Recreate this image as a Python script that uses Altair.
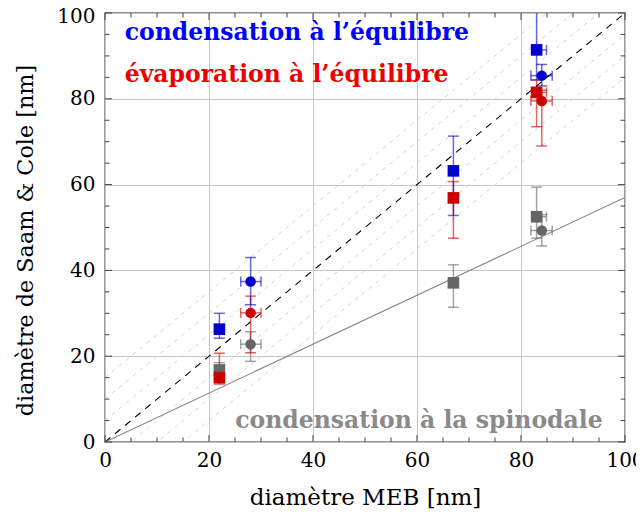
import altair as alt
import pandas as pd

# ---------------- data ----------------
series_order = ["spin", "evap", "cond"]          # drawing order (back to front)
series_colors = ["#666666", "#cc0000", "#0000cc"]

sq_x = [22, 67, 83]
sq_xlo = [22, 67, 82.3]
sq_xhi = [22, 67, 84.9]

cond_sq_y = [26.3, 63.2, 91.4]
cond_sq_lo = [24.2, 52.8, 84.4]
cond_sq_hi = [30.0, 71.3, 108.0]
evap_sq_y = [15.0, 56.9, 81.5]
evap_sq_lo = [13.5, 47.5, 73.5]
evap_sq_hi = [20.7, 60.7, 84.4]
spin_sq_y = [16.8, 37.1, 52.5]
spin_sq_lo = [15.3, 31.4, 47.5]
spin_sq_hi = [18.5, 41.3, 59.4]

ci_x = [28, 84]
ci_xlo = [26.1, 81.9]
ci_xhi = [30.0, 86.0]

cond_ci_y = [37.4, 85.4]
cond_ci_lo = [32.0, 83.0]
cond_ci_hi = [43.0, 88.0]
evap_ci_y = [30.1, 79.5]
evap_ci_lo = [20.8, 69.0]
evap_ci_hi = [34.0, 82.0]
spin_ci_y = [22.8, 49.3]
spin_ci_lo = [18.8, 45.7]
spin_ci_hi = [25.7, 53.0]

diag_offsets = [-15, -10, -5, 5, 10, 15]
spinodal_slope = [0.57]
tick_values = list(range(0, 101, 5))
major_values = [0, 20, 40, 60, 80, 100]

# ---------------- tables ----------------
def rows(name, shape, xs, ys, los, his, xlos, xhis):
    return [dict(series=name, shape=shape, x=a, y=b, ylo=c, yhi=d, xlo=e, xhi=f)
            for a, b, c, d, e, f in zip(xs, ys, los, his, xlos, xhis)]

sq_rows, ci_rows = [], []
sq_rows += rows("spin", "square", sq_x, spin_sq_y, spin_sq_lo, spin_sq_hi, sq_xlo, sq_xhi)
sq_rows += rows("evap", "square", sq_x, evap_sq_y, evap_sq_lo, evap_sq_hi, sq_xlo, sq_xhi)
sq_rows += rows("cond", "square", sq_x, cond_sq_y, cond_sq_lo, cond_sq_hi, sq_xlo, sq_xhi)
ci_rows += rows("spin", "circle", ci_x, spin_ci_y, spin_ci_lo, spin_ci_hi, ci_xlo, ci_xhi)
ci_rows += rows("evap", "circle", ci_x, evap_ci_y, evap_ci_lo, evap_ci_hi, ci_xlo, ci_xhi)
ci_rows += rows("cond", "circle", ci_x, cond_ci_y, cond_ci_lo, cond_ci_hi, ci_xlo, ci_xhi)
sq_df = pd.DataFrame(sq_rows)
ci_df = pd.DataFrame(ci_rows)
all_df = pd.concat([sq_df, ci_df], ignore_index=True)
xerr_df = all_df[all_df["xhi"] > all_df["x"]].reset_index(drop=True)

diag_df = pd.DataFrame({"x0": [0] * len(diag_offsets), "x1": [100] * len(diag_offsets),
                        "y0": diag_offsets, "y1": [100 + o for o in diag_offsets]})
ident_df = pd.DataFrame({"x0": [0], "x1": [100], "y0": [0], "y1": [100]})
spin_df = pd.DataFrame({"x0": [0], "x1": [100], "y0": [0], "y1": [100 * spinodal_slope[0]]})
ticks_df = pd.DataFrame({"v": tick_values,
                         "major": [v in major_values for v in tick_values]})

W, H = 520, 429
xs = alt.Scale(domain=[0, 100], nice=False, zero=False)
ys = alt.Scale(domain=[0, 100], nice=False, zero=False)
xaxis = alt.Axis(values=major_values, labelPadding=8, labelFlush=False,
                 titleX=260, titleY=62, titleBaseline="alphabetic", titleAlign="center")
yaxis = alt.Axis(values=major_values, labelPadding=10, labelFlush=False,
                 labelOffset={"condition": {"test": "datum.value === 100", "value": 3},
                              "value": 0},
                 titleX=-73, titleY=227, titleAngle=270, titleBaseline="alphabetic",
                 titleAlign="center", titleFontSize=22.3)
XT = "diamètre MEB [nm]"
YT = "diamètre de Saam & Cole [nm]"
color = alt.Color("series:N", scale=alt.Scale(domain=series_order, range=series_colors),
                  legend=None)


def X(f):
    return alt.X(f, type="quantitative", scale=xs, axis=xaxis, title=XT)


def Y(f):
    return alt.Y(f, type="quantitative", scale=ys, axis=yaxis, title=YT)


diag = alt.Chart(diag_df).mark_rule(color="#d4d4d4", strokeWidth=1, strokeDash=[4, 5],
                                     clip=True).encode(
    x=X("x0"), x2="x1", y=Y("y0"), y2="y1")
ident = alt.Chart(ident_df).mark_rule(color="black", strokeWidth=1.1, strokeDash=[7, 6],
                                       clip=True).encode(
    x=X("x0"), x2="x1", y=Y("y0"), y2="y1")
spin_line = alt.Chart(spin_df).mark_rule(color="#808080", strokeWidth=1.1, clip=True).encode(
    x=X("x0"), x2="x1", y=Y("y0"), y2="y1")

vbar = alt.Chart(all_df).mark_rule(strokeWidth=1.5, opacity=0.6, clip=True).encode(
    x=X("x"), y=Y("ylo"), y2="yhi", color=color)
vcap_lo = alt.Chart(all_df).mark_tick(orient="horizontal", size=11, thickness=1.5,
                                      opacity=0.6, clip=True).encode(
    x=X("x"), y=Y("ylo"), color=color)
vcap_hi = alt.Chart(all_df).mark_tick(orient="horizontal", size=11, thickness=1.5,
                                      opacity=0.6, clip=True).encode(
    x=X("x"), y=Y("yhi"), color=color)
hbar = alt.Chart(xerr_df).mark_rule(strokeWidth=1.5, opacity=0.6, clip=True).encode(
    x=X("xlo"), x2="xhi", y=Y("y"), color=color)
hcap_lo = alt.Chart(xerr_df).mark_tick(orient="vertical", size=10, thickness=1.5,
                                       opacity=0.6, clip=True).encode(
    x=X("xlo"), y=Y("y"), color=color)
hcap_hi = alt.Chart(xerr_df).mark_tick(orient="vertical", size=10, thickness=1.5,
                                       opacity=0.6, clip=True).encode(
    x=X("xhi"), y=Y("y"), color=color)

squares = alt.Chart(sq_df).mark_point(shape="square", filled=True, size=135, opacity=1).encode(
    x=X("x"), y=Y("y"), color=color)
circles = alt.Chart(ci_df).mark_point(shape="circle", filled=True, size=110, opacity=1).encode(
    x=X("x"), y=Y("y"), color=color)

txt_font = dict(font="DejaVu Serif", fontWeight="bold", fontSize=23.5, baseline="alphabetic")
t1 = alt.Chart(ticks_df.head(1)).mark_text(align="left", color="#0000ff", **txt_font).encode(
    x=alt.datum(3.8), y=alt.datum(93.7), text=alt.value("condensation à l’équilibre"))
t2 = alt.Chart(ticks_df.head(1)).mark_text(align="left", color="#ee0000", **txt_font).encode(
    x=alt.datum(3.8), y=alt.datum(83.8), text=alt.value("évaporation à l’équilibre"))
t3 = alt.Chart(ticks_df.head(1)).mark_text(align="right", color="#8a8a8a", **txt_font).encode(
    x=alt.datum(95.7), y=alt.datum(3.2), text=alt.value("condensation à la spinodale"))

# inward ticks on all four sides
tick_layers = []
for is_major, ln in [(True, 7), (False, 4.5)]:
    sub = ticks_df[ticks_df["major"] == is_major]
    base = alt.Chart(sub).mark_rule(color="#444444", strokeWidth=1)
    tick_layers += [
        base.encode(x=X("v"), y=alt.value(H), y2=alt.value(H - ln)),
        base.encode(x=X("v"), y=alt.value(0), y2=alt.value(ln)),
        base.encode(y=Y("v"), x=alt.value(0), x2=alt.value(ln)),
        base.encode(y=Y("v"), x=alt.value(W), x2=alt.value(W - ln)),
    ]

chart = alt.layer(
    diag, ident, spin_line, *tick_layers,
    vbar, vcap_lo, vcap_hi, hbar, hcap_lo, hcap_hi,
    squares, circles, t1, t2, t3,
).properties(
    width=W, height=H,
    autosize=alt.AutoSizeParams(type="none"),
    padding={"left": 97, "top": 5, "right": 11, "bottom": 68},
).configure_view(
    stroke="#222222", strokeWidth=1.3
).configure_axis(
    domain=False, ticks=False, grid=True, gridColor="#c6c6c6", gridWidth=1,
    labelFont="DejaVu Serif", labelFontSize=20, labelColor="black",
    titleFont="DejaVu Serif", titleFontSize=23, titleFontWeight="normal", titleColor="black",
)

chart.save("out.html", embed_options={"renderer": "svg", "actions": False})
